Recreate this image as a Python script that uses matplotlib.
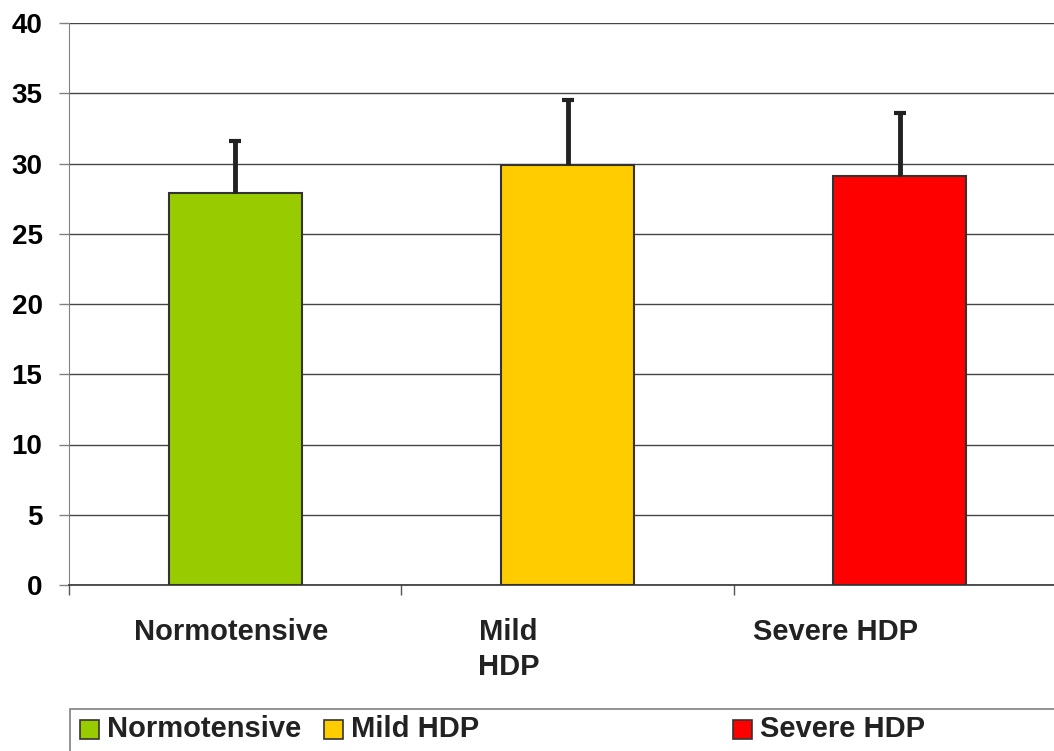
import matplotlib
matplotlib.use('Agg')
import matplotlib.pyplot as plt
import matplotlib.transforms as mtransforms
from matplotlib.patches import Rectangle

plt.rcParams['font.family'] = ['Liberation Sans', 'DejaVu Sans']
plt.rcParams['font.weight'] = 'bold'

categories = ['Normotensive', 'Mild HDP', 'Severe HDP']
tick_labels = ['Normotensive', 'Mild\nHDP', 'Severe HDP']
means = [27.9, 29.9, 29.1]
upper_err = [3.7, 4.6, 4.5]
colors = ['#99CC00', '#FFCC00', '#FF0000']

# label centres are shifted like the original Excel export
label_shift = [-0.012, -0.178, -0.193]
legend_x = [80, 324, 733]

W, H = 1054, 751
fig = plt.figure(figsize=(W / 100, H / 100), dpi=100)
ax = fig.add_axes([69 / W, 1 - 585 / H, (1066 - 69) / W, (585 - 23) / H])

xs = list(range(len(categories)))
ax.bar(xs, means, width=0.4, color=colors, edgecolor='#333333', linewidth=1.5, zorder=3)
eb = ax.errorbar(xs, means, yerr=[[0] * len(means), upper_err], fmt='none',
                 ecolor='#222222', elinewidth=3.5, capsize=4, capthick=3, zorder=4)
# only the upper cap, as in the original
eb[1][0].set_visible(False)

ax.set_xlim(-0.5, len(categories) - 0.5)
ax.set_ylim(0, 40)
ax.set_yticks(range(0, 41, 5))
ax.tick_params(axis='y', labelsize=20, length=7, width=1, color='#808080', pad=12)
for t in ax.get_yticklabels():
    t.set_fontweight('bold')
ax.yaxis.grid(True, color='#444444', linewidth=1)
ax.set_axisbelow(True)

ax.set_xticks([x - 0.5 for x in xs] + [len(xs) - 0.5])
ax.set_xticklabels([])
ax.tick_params(axis='x', length=7, width=1, color='#555555')

for s in ['top', 'right']:
    ax.spines[s].set_visible(False)
ax.spines['left'].set_color('#808080')
ax.spines['bottom'].set_color('#333333')
ax.spines['bottom'].set_linewidth(1.2)

trans = mtransforms.blended_transform_factory(ax.transData, fig.transFigure)
for x, lab, sh in zip(xs, tick_labels, label_shift):
    ax.text(x + sh, 1 - 618 / H, lab, transform=trans, ha='center', va='top',
            fontsize=21, fontweight='bold', color='#222222', linespacing=1.3,
            multialignment='center')

# legend box, cut by the figure edge as in the original
fig.patches.append(Rectangle((70 / W, -0.05), 1.1, 0.05 + (751 - 709) / H,
                             transform=fig.transFigure, fill=False,
                             edgecolor='#808080', linewidth=1.2))
for lx, name, c in zip(legend_x, categories, colors):
    fig.patches.append(Rectangle((lx / W, 1 - 739 / H), 19 / W, 19 / H,
                                 transform=fig.transFigure, facecolor=c,
                                 edgecolor='#333333', linewidth=1.2))
    fig.text((lx + 27) / W, 1 - 729 / H, name, ha='left', va='center',
             fontsize=21, fontweight='bold', color='#222222')

fig.savefig('out.png', dpi=100)
